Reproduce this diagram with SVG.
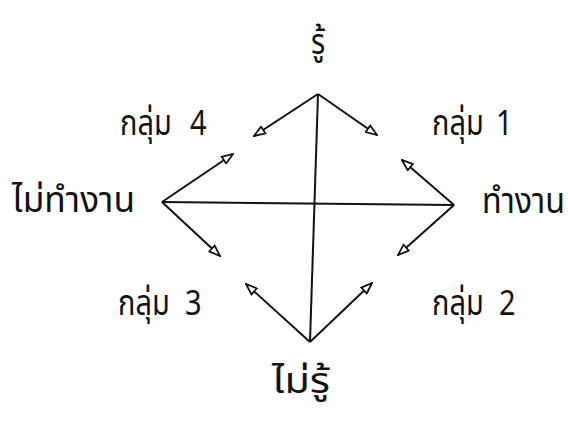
<svg xmlns="http://www.w3.org/2000/svg" width="568" height="425" viewBox="0 0 568 425">
<style>
text{font-family:"Noto Sans Thai","Noto Sans","DejaVu Sans",sans-serif;font-size:29px;fill:#111}
.ln{stroke:#111;stroke-width:2;fill:none}
.ar{stroke:#111;stroke-width:2;fill:none;marker-end:url(#ah)}
</style>
<defs>
<marker id="ah" viewBox="0 0 13 10" refX="12" refY="5" markerWidth="13" markerHeight="10" markerUnits="userSpaceOnUse" orient="auto">
<path d="M1,1 L12,5 L1,9 Z" fill="#fff" stroke="#111" stroke-width="1.8"/>
</marker>
</defs>
<rect width="568" height="425" fill="#fff"/>
<g id="connectors">
<line class="ln" x1="318" y1="94" x2="310" y2="342"/>
<line class="ln" x1="162" y1="202" x2="454" y2="205"/>
<line class="ar" x1="318" y1="94" x2="254" y2="136"/>
<line class="ar" x1="318" y1="94" x2="377" y2="135"/>
<line class="ar" x1="162" y1="202" x2="233" y2="154"/>
<line class="ar" x1="162" y1="202" x2="220" y2="256"/>
<line class="ar" x1="454" y1="205" x2="402" y2="160"/>
<line class="ar" x1="454" y1="205" x2="398" y2="255"/>
<line class="ar" x1="310" y1="342" x2="246" y2="284"/>
<line class="ar" x1="310" y1="342" x2="372" y2="283"/>
</g>
<g id="node-know"><text transform="translate(318,54) scale(1,1.2)" text-anchor="middle">รู้</text></g>
<g id="node-g4"><text transform="translate(120,135) scale(1,1.2)">กลุ่ม <tspan x="70">4</tspan></text></g>
<g id="node-g1"><text transform="translate(432,135) scale(1,1.2)">กลุ่ม <tspan x="64">1</tspan></text></g>
<g id="node-notwork"><text transform="translate(12,212) scale(1,1.2)" textLength="123" lengthAdjust="spacingAndGlyphs">ไม่ทำงาน</text></g>
<g id="node-work"><text transform="translate(482,213) scale(1,1.2)" textLength="83" lengthAdjust="spacingAndGlyphs">ทำงาน</text></g>
<g id="node-g3"><text transform="translate(118,315) scale(1,1.2)">กลุ่ม <tspan x="67">3</tspan></text></g>
<g id="node-g2"><text transform="translate(432,315) scale(1,1.2)">กลุ่ม <tspan x="67">2</tspan></text></g>
<g id="node-notknow"><text transform="translate(272,393) scale(1,1.2)" textLength="58" lengthAdjust="spacingAndGlyphs">ไม่รู้</text></g>
</svg>
